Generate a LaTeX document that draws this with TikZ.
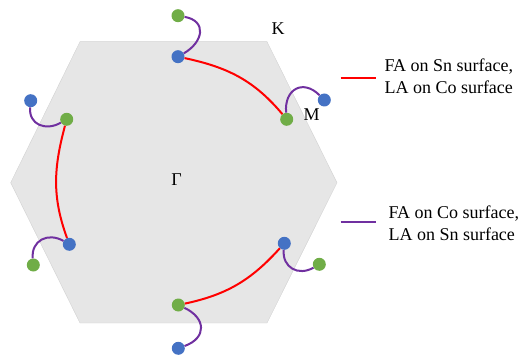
\documentclass[tikz,border=0pt]{standalone}
\usepackage{fontspec}
\setmainfont{Liberation Serif}
\usetikzlibrary{backgrounds}
\definecolor{dotblue}{HTML}{4472C4}
\definecolor{dotgreen}{HTML}{70AD47}
\definecolor{arcpurple}{HTML}{7030A0}
\definecolor{zonegray}{HTML}{E6E6E6}

\begin{document}
\begin{tikzpicture}[x=1pt,y=1pt,
    bluept/.style={circle,fill=dotblue,inner sep=0pt,minimum size=13pt},
    greenpt/.style={circle,fill=dotgreen,inner sep=0pt,minimum size=13pt},
    redarc/.style={red,line width=2pt},
    purplearc/.style={arcpurple,line width=2pt},
    lbl/.style={font=\fontsize{18}{22}\selectfont,inner sep=0pt}]
    \useasboundingbox (0,0) rectangle (529,356);

    % hexagon zone
    \begin{scope}[on background layer]
        \fill[zonegray, draw=gray!35, line width=0.4pt] (80,314.3) -- (267,314.3) -- (337,173.3)
            -- (267,33) -- (80,33) -- (10.7,173.3) -- cycle;
    \end{scope}

    % draw points
    \node[greenpt] (topG) at (178,340.3) {};
    \node[bluept]  (topB) at (178,299.3) {};
    \node[greenpt] (rtG) at (286.7,236.7) {};
    \node[bluept]  (rtB) at (324.3,256) {};
    \node[bluept]  (ltB) at (30.7,255.3) {};
    \node[greenpt] (ltG) at (66.7,236.7) {};
    \node[bluept]  (lbB) at (69.3,111.7) {};
    \node[greenpt] (lbG) at (33.3,91) {};
    \node[bluept]  (rbB) at (284.3,112.7) {};
    \node[greenpt] (rbG) at (319.3,91.7) {};
    \node[greenpt] (botG) at (178.3,51) {};
    \node[bluept]  (botB) at (178.3,7.7) {};

    % add labels
    \node[lbl] (gam) at (176.7,176) {Γ};
    \node[lbl] (kpt) at (278,327) {K};
    \node[lbl] (mpt) at (311.7,241) {M};

    % red arcs
    \draw[redarc] (topB) to[out=-12,in=130] (rtG);
    \draw[redarc] (ltG) to[out=-105,in=110] (lbB);
    \draw[redarc] (botG) to[out=12,in=-132] (rbB);

    % purple arcs
    \draw[purplearc] (topG) to[out=-10,in=30,looseness=1.6] (topB);
    \draw[purplearc] (rtG) to[out=95,in=135,looseness=1.6] (rtB);
    \draw[purplearc] (ltB) to[out=-95,in=210,looseness=1.3] (ltG);
    \draw[purplearc] (lbB) to[out=150,in=95,looseness=1.3] (lbG);
    \draw[purplearc] (rbB) to[out=-95,in=210,looseness=1.3] (rbG);
    \draw[purplearc] (botG) to[out=-25,in=20,looseness=1.6] (botB);

    % legend
    \node[lbl,anchor=west,align=left] (keyred) at (384.3,279.3) {FA on Sn surface,\\LA on Co surface};
    \node[lbl,anchor=west,align=left] (keypur) at (388.3,133) {FA on Co surface,\\LA on Sn surface};
    \draw[redarc] ([xshift=-43.6pt,yshift=-1.6pt]keyred.west) -- ([xshift=-8.6pt,yshift=-1.6pt]keyred.west);
    \draw[purplearc] ([xshift=-47.6pt,yshift=0.7pt]keypur.west) -- ([xshift=-12.6pt,yshift=0.7pt]keypur.west);

\end{tikzpicture}
\end{document}
